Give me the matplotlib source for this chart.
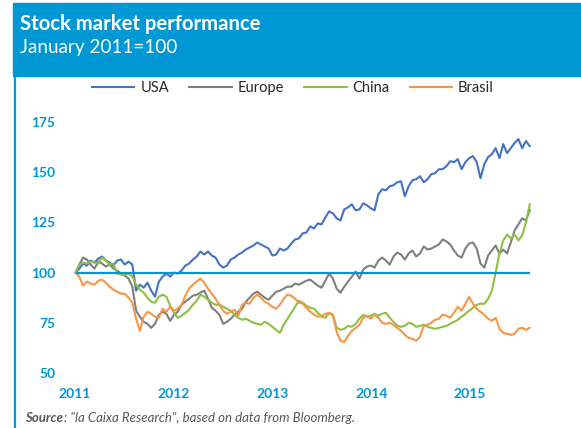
import numpy as np
import pandas as pd
import matplotlib
matplotlib.use('Agg')
import matplotlib.pyplot as plt
from matplotlib.patches import Rectangle
from matplotlib.lines import Line2D

# bi-weekly observations, January 2011 = 100
dates = pd.date_range('2011-01-03', periods=121, freq='14D')

usa = [100, 102, 104.5, 103.5, 106, 105, 107, 108, 106, 105,
       103.5, 106, 106.5, 104, 105.5, 104, 91, 94, 92.5, 95,
       91, 88, 95.5, 98, 99.5, 98, 100, 99.5, 101, 103.5,
       104.5, 106.5, 108, 110.5, 109, 110.5, 108.5, 107.5, 104, 102.5,
       103.5, 106.5, 107.5, 109, 110, 111.5, 112.5, 113.5, 115, 114,
       113, 112, 108.5, 109, 112, 111, 112, 114.5, 116.5, 117,
       119.5, 120, 123, 122, 124.5, 124, 127.5, 130.5, 129.5, 127,
       126, 131.5, 132.5, 134, 131, 131.5, 134.5, 133.5, 132, 131,
       139, 141.5, 141, 143, 143.5, 145, 145.5, 138, 143, 146,
       146.5, 148, 145, 146.5, 149, 149.5, 151.5, 151.5, 153, 155.5,
       155, 156.5, 151.5, 155, 157, 158, 155, 147, 154, 157.5,
       159, 162, 157, 164, 159.5, 162, 164.5, 166.5, 162, 165.5,
       163]

europe = [100, 104, 107.5, 106.5, 104, 102, 105.5, 104.5, 103, 104,
          102, 101, 99.5, 98.5, 97, 93, 81, 78, 75.5, 74.5,
          72.5, 74.5, 79, 80.5, 79.5, 76, 79, 80.5, 84, 85.5,
          87, 88.5, 89, 90, 91, 87, 82.5, 81, 79, 74.5,
          75.5, 77, 79, 80.5, 82, 85.5, 87.5, 89.5, 90.5, 89,
          87.5, 86.5, 88.5, 90.5, 91, 92, 93, 93, 94.5, 94,
          95, 96, 96.5, 95, 93.5, 92.5, 96, 99.5, 97, 92,
          90, 93, 95.5, 98, 100.5, 97, 101.5, 103, 103.5, 102.5,
          106, 107.5, 106, 104, 108, 110, 109, 106.5, 109.5, 111,
          108, 109.5, 113, 111.5, 112, 113, 114, 116.5, 115.5, 114,
          111, 108.5, 107.5, 112, 114.5, 115, 112, 104.5, 102.5, 108.5,
          111, 113.5, 109.5, 111.5, 109.5, 115, 121, 124, 127, 126,
          131]

china = [100, 104, 105, 104.5, 105.5, 105, 104.5, 107.5, 106, 104,
         104.5, 99.5, 99, 99, 99.5, 98, 94, 91.5, 90, 87.5,
         85.5, 85, 88, 89, 88, 83.5, 80, 77.5, 78.5, 80,
         81.5, 84, 86, 89, 88, 86.5, 85, 84, 84, 83,
         82, 81, 79, 77.5, 76.5, 77, 76, 75, 74.5, 74,
         75.5, 74.5, 73, 71.5, 70, 74, 77, 80, 83, 86,
         85, 83.5, 82.5, 82, 80, 78, 77.5, 80, 79, 72.5,
         71.5, 72, 73.5, 73, 74.5, 77, 79, 78, 78.5, 79.5,
         78.5, 79.5, 80, 77.5, 75.5, 73.5, 73, 73.5, 75, 74.5,
         73, 73.5, 74, 73, 72.5, 72, 72.5, 73, 73.5, 74.5,
         75.5, 76.5, 78, 79.5, 81, 82.5, 84, 84.5, 84.5, 87,
         91, 100, 109.5, 116, 119, 117, 119, 116, 118.5, 125,
         134]

brasil = [100, 98, 93.5, 95.5, 94.5, 94, 96, 96.5, 95, 93,
          91.5, 90.5, 89.5, 89.5, 87.5, 85, 77, 71, 78, 80.5,
          79.5, 78, 77.5, 82, 80.5, 83, 81, 82, 84, 88.5,
          92, 94, 95.5, 97, 95, 92, 89.5, 87, 84, 81,
          79.5, 80.5, 81.5, 78.5, 84, 85, 84.5, 87.5, 89, 87.5,
          85.5, 84.5, 83, 82, 84, 87, 89, 88.5, 87, 85,
          84.5, 82.5, 80.5, 79, 78, 78.5, 79.5, 80, 78.5, 70.5,
          66, 65.5, 68.5, 71, 72.5, 74, 77.5, 78.5, 77, 79,
          77.5, 75, 74.5, 75, 74, 72.5, 71, 69, 67.5, 67,
          66, 68, 73.5, 74, 75, 76.5, 77, 79, 78.5, 77.5,
          80, 83, 81, 84.5, 88, 84.5, 82, 80.5, 79, 77,
          76, 77.5, 72, 70, 69.5, 69, 69.5, 72, 72.5, 71.5,
          72.5]

base = 100
series = [('USA', usa, '#4472C4'), ('Europe', europe, '#7F7F7F'),
          ('China', china, '#8DC043'), ('Brasil', brasil, '#F79646')]
y_ticks = [50, 75, 100, 125, 150, 175]
x_ticks = ['2011', '2012', '2013', '2014', '2015']

blue = '#0098D4'
W, H = 581, 428
fig = plt.figure(figsize=(W / 100, H / 100), dpi=100)
fig.patch.set_facecolor('white')

# header box and left rule
fig.patches.append(Rectangle((13 / W, 1 - 76 / H), 1 - 13 / W, 73 / H,
                             transform=fig.transFigure, color=blue, zorder=0))
fig.lines.append(Line2D([14.5 / W, 14.5 / W], [0, 1 - 76 / H],
                        transform=fig.transFigure, color=blue, lw=1.6))
fig.text(20 / W, 1 - 24 / H, 'Stock market performance', color='white',
         fontsize=14.6, fontweight='bold', family='Lato', va='center')
fig.text(20 / W, 1 - 48 / H, 'January 2011=100', color='white',
         fontsize=13.6, family='Lato', va='center')

ax = fig.add_axes([75 / W, 1 - 373 / H, 465 / W, 251 / H])
for name, vals, col in series:
    ax.plot(dates, vals, color=col, lw=1.5, label=name, clip_on=False)
ax.hlines(base, dates[0], dates[-1], color=blue, lw=1.6, zorder=5)

ax.set_xlim(pd.Timestamp('2011-01-01'), pd.Timestamp('2015-09-17'))
ax.set_ylim(50, 175)
ax.set_yticks(y_ticks)
ax.set_xticks([pd.Timestamp(y + '-01-01') for y in x_ticks])
ax.set_xticklabels(x_ticks)
for s in ax.spines.values():
    s.set_visible(False)
ax.tick_params(length=0, labelcolor=blue, labelsize=10)
ax.tick_params(axis='y', pad=14)
ax.tick_params(axis='x', pad=11)
for lab in ax.get_xticklabels() + ax.get_yticklabels():
    lab.set_fontweight('bold')
    lab.set_family('Lato')

fig.legend(loc='center', bbox_to_anchor=(293 / W, 1 - 88 / H), ncol=4,
           frameon=False, handlelength=2.9, handletextpad=0.4,
           columnspacing=1.4, prop={'family': 'Lato', 'size': 10.5},
           labelcolor='#262626')

fig.text(25 / W, 1 - 418 / H, 'Source', color='#595959', fontsize=9.5,
         fontweight='bold', style='italic', family='Lato', va='center')
fig.text(64 / W, 1 - 418 / H, ': "la Caixa Research", based on data from Bloomberg.',
         color='#595959', fontsize=9.5, style='italic', family='Lato', va='center')

fig.savefig('out.png', dpi=100)
